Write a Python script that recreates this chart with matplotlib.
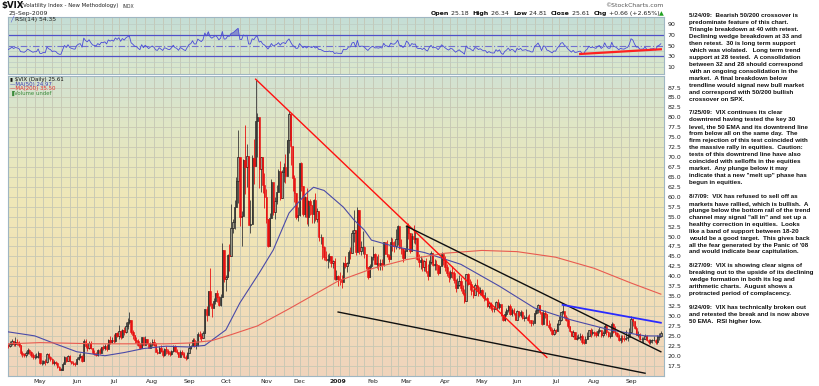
import numpy as np
import pandas as pd
import matplotlib
matplotlib.use("Agg")
import matplotlib.pyplot as plt
from matplotlib.colors import to_rgb

# ---- data, one line per month, Mar 2008 .. Sep 2009 ----
closes = [
    26.5, 25.8, 24.1, 27.5, 27.5, 29.4, 25.6, 26.3, 27.3, 31.2, 32.2, 26.0, 29.8, 26.6, 25.0, 24.8, 25.9, 25.7, 25.7, 25.6,
    22.7, 23.4, 22.4, 22.5, 22.4, 23.0, 23.8, 22.9, 23.5, 23.2, 22.8, 20.6, 20.4, 20.1, 20.6, 21.5, 20.9, 20.2, 19.6, 19.8, 19.8, 20.8,
    18.2, 18.2, 18.6, 18.3, 20.5, 19.6, 19.2, 18.1, 18.3, 18.1, 17.1, 16.5, 16.5, 18.0, 19.6, 18.7, 19.9, 18.6, 18.2, 17.9, 17.8,
    19.2, 19.8, 20.0, 18.6, 23.6, 22.5, 21.9, 23.3, 21.9, 20.7, 20.4, 20.2, 21.4, 20.8, 22.2, 22.0, 22.5, 21.6, 23.9, 23.4, 24.0,
    23.6, 25.6, 25.0, 26.2, 24.7, 26.6, 25.9, 27.5, 28.5, 29.0, 25.9, 25.1, 24.0, 23.8, 22.7, 21.9, 24.6, 22.7, 24.2, 23.2, 22.0, 22.9,
    23.5, 22.8, 21.0, 20.7, 22.0, 21.2, 20.3, 21.6, 21.3, 20.7, 20.5, 21.3, 22.5, 21.3, 20.9, 19.8, 21.0, 20.5, 19.8, 19.4, 20.7,
    22.0, 22.4, 24.0, 22.6, 22.6, 25.5, 24.9, 24.4, 25.7, 31.7, 30.3, 36.2, 33.1, 32.1, 33.7, 35.7, 34.7, 32.8, 34.7, 46.7, 39.4,
    39.8, 45.3, 45.1, 52.1, 53.7, 57.5, 63.9, 69.9, 55.0, 55.1, 69.3, 67.6, 70.3, 53.0, 53.1, 69.7, 67.8, 79.1, 80.1, 67.0, 70.0, 62.9, 59.9,
    54.5, 47.7, 54.6, 63.7, 56.1, 58.9, 61.2, 66.5, 59.8, 66.3, 67.6, 65.2, 74.3, 80.9, 72.7, 64.7, 60.9, 54.9, 55.3,
    68.5, 62.6, 55.7, 59.9, 54.8, 58.9, 57.9, 55.7, 59.2, 54.3, 56.4, 49.8, 49.8, 47.3, 44.9, 44.2, 44.2, 45.0, 43.4, 43.9, 39.2, 40.0,
    39.2, 39.1, 38.6, 43.4, 42.6, 43.3, 46.1, 45.8, 51.0, 51.7, 46.1, 56.7, 46.4, 47.3, 47.3, 45.7, 42.3, 39.7, 42.6, 44.8,
    45.5, 43.1, 43.3, 42.8, 43.4, 42.9, 48.5, 45.7, 45.2, 44.3, 48.7, 47.7, 47.6, 49.3, 52.6, 47.0, 46.9, 44.6, 46.4,
    52.7, 50.9, 46.4, 50.2, 49.3, 49.7, 44.4, 43.6, 44.0, 42.4, 43.9, 41.2, 40.0, 43.7, 45.9, 42.9, 43.2, 42.9, 40.7, 42.6, 45.5, 44.1,
    42.3, 40.8, 39.7, 41.0, 40.8, 39.0, 37.0, 37.9, 38.8, 37.0, 35.9, 33.9, 40.5, 38.1, 38.0, 36.3, 35.2, 37.9, 37.4, 35.9, 36.5,
    35.3, 34.5, 34.6, 32.4, 33.2, 32.1, 31.8, 31.8, 33.6, 32.3, 33.1, 30.2, 29.0, 30.6, 31.4, 32.6, 30.6, 31.4, 30.7, 28.9,
    31.2, 30.2, 31.0, 29.4, 29.6, 29.8, 29.0, 28.9, 28.2, 28.2, 30.8, 31.5, 32.7, 30.9, 28.0, 30.8, 30.6, 27.8, 27.3, 26.4, 25.4, 26.4,
    26.2, 27.9, 29.0, 30.9, 31.3, 29.8, 29.0, 27.4, 26.3, 25.0, 25.9, 24.3, 24.4, 24.7, 24.9, 23.4, 23.1, 24.3, 25.0, 26.4, 25.6, 25.9,
    25.6, 25.2, 26.1, 26.4, 25.1, 25.7, 27.6, 25.9, 25.0, 25.0, 28.0, 25.9, 25.6, 24.9, 23.9, 24.5, 24.2, 24.1, 24.5, 24.8, 26.0,
    29.2, 28.7, 26.9, 25.3, 25.3, 24.1, 24.1, 24.2, 24.9, 23.9, 23.4, 23.9, 23.9, 24.0, 23.4, 24.7, 25.0, 25.61,
]
highs = [
    27.8, 27.2, 26.0, 28.0, 29.0, 30.3, 28.6, 26.9, 29.0, 31.8, 35.6, 29.5, 30.0, 29.6, 26.8, 25.8, 26.8, 26.8, 26.6, 26.8,
    25.9, 24.0, 23.7, 23.1, 22.9, 23.6, 24.3, 23.8, 24.6, 24.2, 23.6, 22.5, 21.2, 20.7, 21.1, 21.9, 21.8, 21.3, 20.6, 20.4, 20.6, 21.2,
    20.3, 18.9, 19.0, 19.1, 20.8, 20.8, 20.0, 19.5, 18.9, 18.8, 18.5, 17.5, 17.0, 18.4, 20.0, 19.8, 20.2, 20.2, 18.8, 18.6, 18.3,
    19.6, 20.4, 20.6, 20.1, 24.2, 24.2, 23.2, 23.6, 23.6, 22.0, 21.5, 21.0, 21.7, 22.0, 22.3, 22.8, 23.0, 23.0, 24.1, 25.0, 24.6,
    25.4, 25.8, 25.9, 27.7, 26.5, 26.7, 27.3, 28.5, 29.5, 31.0, 28.7, 26.4, 25.3, 24.7, 24.3, 23.3, 24.7, 24.7, 24.9, 24.3, 23.2, 23.5,
    24.1, 24.1, 23.2, 21.8, 22.4, 22.6, 21.4, 21.9, 22.4, 21.6, 21.3, 21.5, 22.7, 22.8, 21.6, 20.8, 21.4, 21.4, 20.9, 20.2, 20.9,
    23.3, 22.8, 24.5, 24.4, 23.8, 25.9, 26.3, 25.8, 26.3, 31.8, 32.6, 36.4, 42.2, 33.2, 34.6, 35.9, 36.5, 35.1, 35.5, 48.4, 46.3,
    40.3, 45.6, 48.1, 58.2, 54.3, 59.1, 64.9, 76.9, 65.9, 56.3, 69.6, 78.0, 73.3, 65.8, 59.3, 70.6, 74.6, 89.5, 81.2, 76.9, 70.1, 68.2, 66.1,
    61.9, 54.3, 56.0, 64.4, 62.2, 59.9, 63.0, 67.0, 69.0, 66.8, 68.5, 70.8, 74.4, 81.5, 79.5, 72.5, 65.4, 60.6, 57.5,
    68.6, 68.8, 62.6, 60.3, 62.3, 59.1, 59.5, 57.6, 59.4, 60.9, 57.2, 56.5, 50.7, 49.8, 47.7, 46.4, 45.7, 45.8, 44.9, 44.2, 44.6, 41.6,
    40.3, 41.0, 40.3, 43.6, 45.0, 43.5, 46.6, 47.3, 51.6, 56.7, 50.9, 57.4, 54.0, 48.9, 51.5, 47.6, 45.7, 42.2, 43.1, 45.2,
    47.5, 45.8, 45.0, 45.7, 44.4, 44.3, 48.6, 48.4, 49.1, 45.6, 49.8, 49.6, 48.9, 51.9, 52.8, 51.8, 49.5, 47.2, 47.0,
    53.2, 53.3, 50.4, 51.0, 53.0, 51.4, 48.6, 45.5, 45.2, 44.7, 44.1, 44.5, 43.0, 44.0, 46.3, 45.8, 44.3, 44.2, 42.6, 42.7, 46.0, 45.5,
    45.0, 43.1, 41.3, 41.7, 42.5, 41.4, 39.3, 39.6, 40.4, 39.8, 37.8, 36.7, 40.6, 40.8, 39.3, 38.7, 36.8, 38.3, 39.2, 37.9, 37.3,
    36.9, 34.8, 36.0, 34.9, 33.6, 33.4, 32.9, 32.5, 33.9, 34.3, 33.6, 32.7, 30.3, 31.2, 32.0, 32.8, 32.9, 32.0, 32.0, 30.7,
    31.6, 31.3, 31.5, 31.2, 30.2, 31.7, 30.3, 30.4, 29.0, 28.9, 31.4, 32.1, 33.0, 32.7, 29.9, 31.6, 31.4, 30.5, 28.9, 28.3, 26.9, 27.1,
    26.8, 28.2, 30.0, 31.0, 32.8, 31.1, 30.3, 29.6, 27.5, 26.3, 26.4, 25.9, 25.2, 25.5, 25.8, 25.4, 24.3, 24.9, 25.9, 26.5, 26.9, 26.8,
    26.2, 26.2, 26.8, 27.3, 26.6, 26.2, 28.0, 27.9, 26.1, 25.9, 28.4, 28.2, 27.5, 26.0, 25.5, 25.2, 25.1, 25.2, 26.6, 25.8, 27.0,
    29.9, 29.6, 28.8, 27.4, 26.3, 25.6, 24.8, 24.6, 25.4, 25.3, 24.2, 24.3, 24.3, 25.0, 24.1, 25.3, 25.8, 26.34,
]
lows = [
    25.5, 24.4, 23.6, 24.1, 25.9, 27.0, 25.2, 24.8, 25.5, 26.4, 28.9, 25.7, 25.3, 26.3, 24.6, 24.2, 24.9, 25.0, 24.8, 24.9,
    22.2, 22.5, 22.2, 21.7, 21.9, 22.2, 22.6, 22.4, 22.5, 22.7, 22.3, 20.3, 19.8, 19.6, 19.7, 20.4, 20.4, 19.7, 19.1, 19.2, 19.4, 19.5,
    17.9, 17.6, 18.0, 17.7, 18.1, 19.2, 18.8, 17.9, 17.6, 17.6, 16.9, 16.4, 16.3, 16.7, 17.8, 18.4, 18.6, 18.4, 17.9, 17.7, 17.5,
    18.0, 18.9, 19.4, 18.5, 18.7, 21.9, 21.3, 21.7, 21.6, 20.5, 20.2, 19.9, 20.0, 20.4, 20.6, 21.4, 21.5, 21.3, 21.6, 22.9, 23.2,
    23.3, 23.4, 24.6, 24.1, 24.2, 24.4, 25.2, 25.8, 26.8, 27.9, 25.5, 24.3, 23.3, 23.1, 22.5, 21.6, 22.3, 22.6, 22.9, 22.9, 21.9, 22.0,
    22.4, 22.5, 20.9, 20.5, 20.6, 20.9, 19.7, 19.9, 20.5, 20.3, 19.9, 20.1, 21.0, 21.0, 20.4, 19.8, 19.9, 20.1, 19.5, 19.0, 19.3,
    21.0, 21.6, 22.5, 22.3, 21.8, 22.5, 24.1, 23.8, 24.5, 27.2, 28.7, 30.8, 32.5, 29.8, 32.1, 33.1, 33.5, 32.5, 32.6, 36.1, 38.5,
    36.2, 40.3, 41.4, 45.9, 50.8, 51.9, 57.5, 58.5, 52.6, 47.6, 55.1, 60.8, 62.5, 52.9, 50.9, 53.6, 63.3, 67.9, 69.9, 62.1, 61.1, 61.0, 57.2,
    53.4, 47.4, 47.5, 56.3, 55.5, 54.5, 58.1, 61.3, 59.1, 61.4, 63.6, 63.4, 65.8, 70.9, 68.0, 61.5, 58.8, 54.3, 53.9,
    55.1, 61.4, 55.2, 55.0, 53.1, 52.7, 55.5, 53.3, 53.4, 53.9, 53.7, 49.0, 48.1, 44.3, 44.2, 43.9, 42.2, 43.5, 42.4, 42.1, 39.0, 39.0,
    37.5, 37.7, 37.1, 40.5, 42.0, 41.1, 43.3, 44.4, 47.0, 48.7, 45.3, 46.7, 45.7, 45.4, 45.7, 44.5, 41.9, 39.4, 40.2, 42.0,
    44.2, 43.0, 42.0, 41.7, 41.6, 41.6, 42.5, 45.6, 44.9, 43.5, 46.7, 46.4, 46.0, 46.9, 47.8, 46.9, 45.5, 43.6, 44.5,
    46.9, 49.5, 45.9, 46.4, 48.3, 48.1, 44.0, 42.4, 41.9, 41.3, 41.3, 40.9, 39.1, 40.1, 43.0, 42.5, 41.5, 41.5, 40.4, 40.7, 43.0, 42.8,
    41.2, 40.0, 38.6, 39.2, 39.6, 38.3, 36.1, 37.1, 37.6, 36.3, 35.3, 33.3, 36.0, 37.9, 36.6, 35.4, 34.6, 36.4, 36.6, 35.0, 35.3,
    34.9, 33.9, 34.0, 32.3, 31.9, 31.5, 30.9, 31.0, 32.4, 31.9, 31.8, 30.0, 28.8, 28.8, 30.1, 31.1, 30.2, 30.0, 30.2, 28.9,
    29.5, 29.7, 29.8, 29.2, 28.7, 29.4, 28.8, 28.3, 27.5, 27.8, 29.1, 30.4, 30.8, 30.6, 27.8, 28.9, 29.5, 27.7, 26.8, 26.3, 25.3, 25.1,
    25.7, 26.1, 27.7, 28.8, 30.4, 29.6, 28.8, 27.0, 26.0, 24.9, 24.7, 24.1, 24.0, 24.2, 24.0, 22.9, 23.0, 23.4, 24.2, 24.9, 24.7, 25.3,
    24.9, 24.6, 25.0, 25.6, 24.8, 24.8, 25.7, 25.3, 24.6, 24.4, 25.9, 25.6, 25.1, 24.6, 23.6, 23.3, 23.5, 23.8, 23.9, 23.7, 25.0,
    26.0, 27.6, 26.7, 25.2, 24.8, 23.9, 23.4, 23.3, 24.2, 23.7, 22.9, 22.9, 23.3, 23.6, 22.9, 22.9, 24.0, 24.81,
]
holidays = ["2008-03-21", "2008-05-26", "2008-07-04", "2008-09-01", "2008-11-27", "2008-12-25",
            "2009-01-01", "2009-01-19", "2009-02-16", "2009-04-10", "2009-05-25", "2009-07-03", "2009-09-07"]

# moving averages
ma50_dates = ["2008-04-07", "2008-04-28", "2008-05-15", "2008-06-02", "2008-06-24", "2008-07-10", "2008-07-25",
              "2008-08-13", "2008-09-02", "2008-09-15", "2008-10-01", "2008-10-13", "2008-10-28", "2008-11-07",
              "2008-11-20", "2008-12-05", "2008-12-11", "2008-12-19", "2009-01-07", "2009-01-15", "2009-01-26",
              "2009-01-30", "2009-02-19", "2009-03-16", "2009-04-15", "2009-05-15", "2009-06-15", "2009-07-15",
              "2009-08-14", "2009-09-14", "2009-09-25"]
ma50_vals = [26.0, 25.0, 22.8, 21.0, 20.0, 20.8, 21.8, 22.4, 22.2, 22.6, 26.5, 33.3, 40.8, 46.6,
             55.9, 60.9, 62.4, 61.6, 57.4, 54.2, 51.6, 49.1, 47.5, 46.0, 43.0, 37.5, 32.0, 29.0, 26.5, 25.0, 24.97]
ma200_dates = ["2008-04-07", "2008-05-01", "2008-06-18", "2008-08-13", "2008-09-02", "2008-09-19", "2008-10-06",
               "2008-10-27", "2008-11-20", "2008-12-15", "2009-01-02", "2009-02-02", "2009-03-02", "2009-04-01",
               "2009-05-01", "2009-06-01", "2009-07-01", "2009-08-03", "2009-09-01", "2009-09-25"]
ma200_vals = [23.0, 23.3, 23.0, 23.0, 23.2, 23.8, 25.3, 27.5, 31.8, 35.8, 38.8, 42.0, 44.2, 45.8,
              46.5, 46.2, 44.8, 42.0, 38.3, 35.5]

# hand drawn trend lines (date, value)
red_trend = [("2008-10-24", 89.6), ("2009-06-24", 19.6)]
black_upper = [("2009-03-02", 52.6), ("2009-09-25", 21.0)]
black_lower = [("2009-01-02", 31.0), ("2009-09-14", 15.6)]
blue_trend = [("2009-07-08", 32.8), ("2009-09-25", 28.3)]
rsi_trend = [("2009-07-22", 34.5), ("2009-09-25", 43.3)]

month_names = ["Jan", "Feb", "Mar", "Apr", "May", "Jun", "Jul", "Aug", "Sep", "Oct", "Nov", "Dec"]

notes = [
    "5/24/09:  Bearish 50/200 crossover is",
    "predominate feature of this chart.",
    "Triangle breakdown at 40 with retest.",
    "Declining wedge breakdown at 33 and",
    "then retest.  30 is long term support",
    "which was violated.   Long term trend",
    "support at 28 tested.  A consolidation",
    "between 32 and 28 should correspond",
    "with an ongoing consolidation in the",
    "market.  A final breakdown below",
    "trendline would signal new bull market",
    "and correspond with 50/200 bullish",
    "crossover on SPX.",
    "",
    "7/25/09:  VIX continues its clear",
    "downtrend having tested the key 30",
    "level, the 50 EMA and its downtrend line",
    "from below all on the same day.  The",
    "firm rejection of this test coincided with",
    "the massive rally in equities.  Caution:",
    "tests of this downtrend line have also",
    "coincided with selloffs in the equities",
    "market.  Any plunge below it may",
    "indicate that a new \"melt up\" phase has",
    "begun in equities.",
    "",
    "8/7/09:  VIX has refused to sell off as",
    "markets have rallied, which is bullish.  A",
    "plunge below the bottom rail of the trend",
    "channel may signal \"all in\" and set up a",
    "healthy correction in equities.  Looks",
    "like a band of support between 18-20",
    "would be a good target.  This gives back",
    "all the fear generated by the Panic of '08",
    "and would indicate bear capitulation.",
    "",
    "8/27/09:  VIX is showing clear signs of",
    "breaking out to the upside of its declining",
    "wedge formation in both its log and",
    "arithmetic charts.  August shows a",
    "protracted period of complacency.",
    "",
    "9/24/09:  VIX has technically broken out",
    "and retested the break and is now above",
    "50 EMA.  RSI higher low.",
]

# ---- build series ----
dates = pd.bdate_range("2008-03-03", "2009-09-25", freq="C", holidays=holidays)
n = min(len(dates), len(closes))
dates = dates[-n:]
c = np.array(closes[-n:])
o = np.concatenate([[c[0]], c[:-1]])
h = np.maximum(np.array(highs[-n:]), np.maximum(o, c))
l = np.minimum(np.array(lows[-n:]), np.minimum(o, c))
x = np.arange(n)
pos = {d: i for i, d in enumerate(dates)}


def ix(s):
    return pos[pd.Timestamp(s)]


# RSI(14), Wilder smoothing
delta = np.diff(c)
gain = np.clip(delta, 0, None)
loss = np.clip(-delta, 0, None)
rsi = np.full(n, np.nan)
ag, al = gain[:14].mean(), loss[:14].mean()
rsi[14] = 100 - 100 / (1 + ag / al)
for i in range(15, n):
    ag = (ag * 13 + gain[i - 1]) / 14
    al = (al * 13 + loss[i - 1]) / 14
    rsi[i] = 100 - 100 / (1 + ag / al)

# ---- figure ----
W, H = 820, 386
fig = plt.figure(figsize=(W / 100, H / 100), dpi=100, facecolor="white")
renderer = fig.canvas.get_renderer()


def fx(px):
    return px / W


def fy(py):
    return 1 - py / H


def text_run(x0, y0, pieces, size, right=False):
    # lay text pieces side by side, measured in pixels
    ts = [fig.text(0, fy(y0), s, fontsize=size, fontweight=w, color=col, va="center") for s, w, col in pieces]
    ws = [t.get_window_extent(renderer=renderer).width for t in ts]
    xp = x0 - sum(ws) if right else x0
    for t, wd in zip(ts, ws):
        t.set_x(fx(xp))
        xp += wd


ax_r = fig.add_axes([fx(8), fy(74), 656 / W, 57 / H])
ax = fig.add_axes([fx(8), fy(376), 656 / W, 300 / H])

may1 = ix("2008-05-01")
xl = (may1 - 18.2, may1 + 355.8)
for a in (ax, ax_r):
    a.set_xlim(*xl)
ax.set_ylim(14.9, 90.4)
ax_r.set_ylim(-2.9, 103.6)


def gradient(a, stops):
    N = 256
    t = np.linspace(0, 1, N)
    pts = [p for p, _ in stops]
    cols = np.array([to_rgb(col) for _, col in stops])
    img = np.stack([np.interp(t, pts, cols[:, k]) for k in range(3)], axis=1)
    a.imshow(img[:, None, :], extent=[0, 1, 0, 1], transform=a.transAxes, aspect="auto",
             origin="lower", zorder=0, interpolation="bilinear")


gradient(ax, [(0, "#f0d4bc"), (0.35, "#f2e2b6"), (0.6, "#efe8b8"), (0.85, "#dfe6c6"), (1, "#d2e2d2")])
gradient(ax_r, [(0, "#dce8cc"), (1, "#c4ded6")])

# grid
week_starts = [i for i in range(1, n) if dates[i].weekday() < dates[i - 1].weekday()]
for a in (ax, ax_r):
    for i in week_starts:
        a.axvline(i, color="#c4c6b4", lw=0.6, zorder=1)
for v in np.arange(17.5, 90, 2.5):
    ax.axhline(v, color="#c8c8b4", lw=0.6, zorder=1)
for v in (10, 20, 40, 60, 80, 90):
    ax_r.axhline(v, color="#bcccc4", lw=0.5, zorder=1)

# candles
up = c >= o
dn = ~up
ax.vlines(x[up], l[up], h[up], color="#3a3a3a", lw=0.6, zorder=3)
ax.vlines(x[dn], l[dn], h[dn], color="#e81010", lw=0.6, zorder=3)
ax.bar(x[up], np.maximum(c[up] - o[up], 0.08), bottom=o[up], width=0.75,
       facecolor="#9a9a8a", edgecolor="#1e1e1e", lw=0.5, zorder=4)
ax.bar(x[dn], o[dn] - c[dn], bottom=c[dn], width=0.75,
       facecolor="#e81010", edgecolor="#e81010", lw=0.4, zorder=4)

# moving averages
ax.plot([ix(d) for d in ma50_dates], ma50_vals, color="#4a4aa8", lw=0.8, zorder=5)
ax.plot([ix(d) for d in ma200_dates], ma200_vals, color="#e85a50", lw=0.8, zorder=5)


def seg(a, pts, **kw):
    a.plot([ix(d) for d, _ in pts], [v for _, v in pts], **kw)


seg(ax, red_trend, color="#ff1010", lw=1.0, zorder=6)
seg(ax, black_upper, color="#101010", lw=1.0, zorder=6)
seg(ax, black_lower, color="#101010", lw=1.0, zorder=6)
seg(ax, blue_trend, color="#2a2aff", lw=1.3, zorder=6)

# RSI panel
ax_r.axhline(70, color="#5050c8", lw=0.9, zorder=2)
ax_r.axhline(30, color="#5050c8", lw=0.9, zorder=2)
ax_r.axhline(50, color="#7070d0", lw=0.8, ls=(0, (6, 2, 1, 2)), zorder=2)
ax_r.plot(x, rsi, color="#4a4ad8", lw=0.6, zorder=3)
ax_r.fill_between(x, 70, rsi, where=rsi > 70, interpolate=True, color="#5858c8", alpha=0.6, lw=0, zorder=3)
seg(ax_r, rsi_trend, color="#ff2020", lw=1.6, zorder=4)

# axes cosmetics
for a in (ax, ax_r):
    a.yaxis.tick_right()
    a.tick_params(axis="y", length=0, pad=2.5, labelsize=4.5, labelcolor="#202020")
    for s in a.spines.values():
        s.set_color("#9fb6c2")
        s.set_linewidth(0.8)
ax.set_yticks(np.arange(17.5, 88, 2.5))
ax.set_yticklabels([f"{v:.1f}" for v in np.arange(17.5, 88, 2.5)])
ax_r.set_yticks([10, 30, 50, 70, 90])
ax_r.set_xticks([])

month_pos, month_lab = [], []
for i in range(1, n):
    if dates[i].month != dates[i - 1].month and xl[0] <= i <= xl[1]:
        month_pos.append(i)
        month_lab.append(str(dates[i].year) if dates[i].month == 1 else month_names[dates[i].month - 1])
ax.set_xticks(month_pos)
ax.set_xticklabels(month_lab)
ax.tick_params(axis="x", length=0, pad=2, labelsize=4.4, labelcolor="#202020")
for t in ax.get_xticklabels():
    if t.get_text().isdigit():
        t.set_fontweight("bold")

# header
text_run(1.5, 5.8, [("$VIX", "bold", "#111111")], 6.2)
text_run(21, 5.8, [("(Volatility Index - New Methodology) ", "normal", "#222222")], 3.9)
text_run(123, 6.0, [("INDX", "normal", "#333333")], 3.3)
fig.text(fx(9), fy(13.3), "25-Sep-2009", fontsize=4.4, va="center", color="#222222")
fig.text(fx(664), fy(5.7), "\u00a9StockCharts.com", fontsize=4.4, va="center", ha="right", color="#555555")
text_run(664, 13.3, [("Open", "bold", "#111111"), (" 25.18  ", "normal", "#222222"),
                     ("High", "bold", "#111111"), (" 26.34  ", "normal", "#222222"),
                     ("Low", "bold", "#111111"), (" 24.81  ", "normal", "#222222"),
                     ("Close", "bold", "#111111"), (" 25.61  ", "normal", "#222222"),
                     ("Chg", "bold", "#111111"), (" +0.66 (+2.65%)", "normal", "#222222"),
                     ("\u25b2", "normal", "#20a020")], 4.5, right=True)

# panel legends
fig.text(fx(10), fy(19.2), "\u2571", fontsize=4, color="#3a3ad0", va="center", fontweight="bold")
fig.text(fx(15.5), fy(19.2), "RSI(14) 54.35", fontsize=4.3, color="#222222", va="center")
legend_rows = [("\u25ae $VIX (Daily) 25.61", "#111111"), ("\u2014MA(50) 24.97", "#3a3ab0"),
               ("\u2014MA(200) 35.50", "#e83030"), ("\u2590Volume undef", "#3a8a3a")]
for k, (s, col) in enumerate(legend_rows):
    fig.text(fx(10), fy(80 + 4.35 * k), s, fontsize=3.9, color=col, va="center")

# commentary column
for k, line in enumerate(notes):
    if line:
        fig.text(fx(689), fy(15.7 + 6.95 * k), line, fontsize=4.5, fontweight="bold",
                 family=["Liberation Sans", "DejaVu Sans"], color="#111111", va="center")

fig.savefig("out.png", dpi=100, facecolor="white")
